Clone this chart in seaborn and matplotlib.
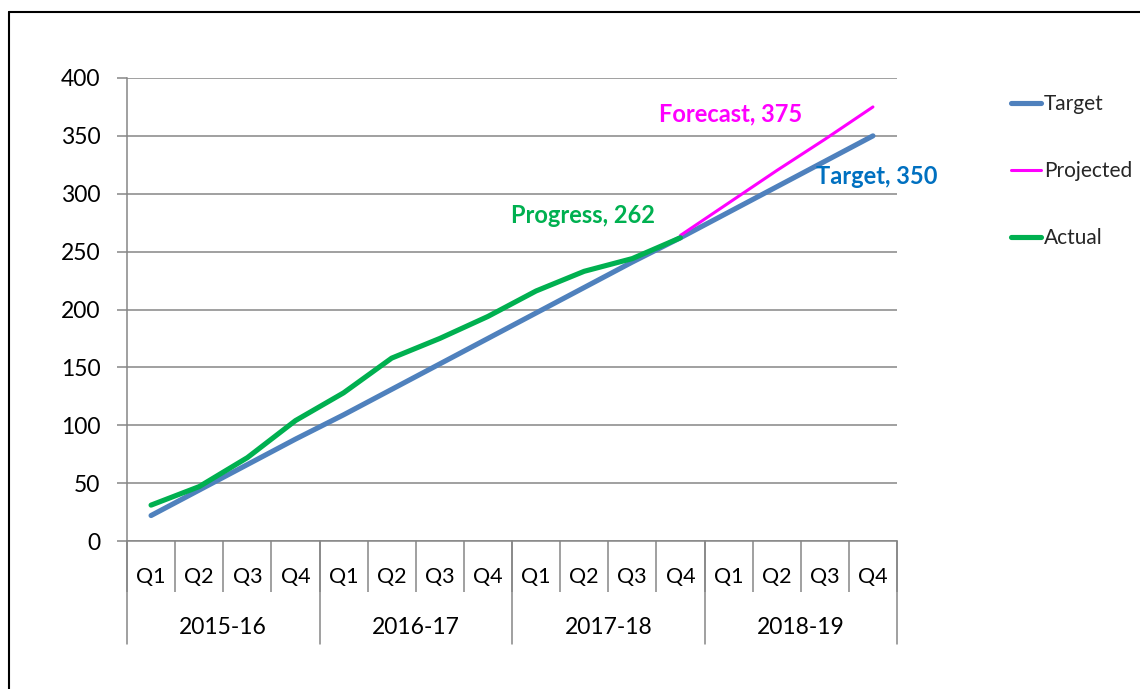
import matplotlib
matplotlib.use("Agg")
import matplotlib.pyplot as plt
import matplotlib.transforms as mtransforms
import seaborn as sns
import pandas as pd
import numpy as np

# ---- data ----
years = ["2015-16", "2016-17", "2017-18", "2018-19"]
quarters = ["Q1", "Q2", "Q3", "Q4"]
target = [22, 44, 66, 88, 109, 131, 153, 175, 197, 219, 241, 262, 284, 306, 328, 350]
actual = [31, 47, 72, 104, 128, 158, 175, 194, 216, 233, 244, 262]
projected = [264, 292, 320, 347, 375]
projected_start = 11  # index of first projected quarter

sns.set_theme(style="white")
plt.rcParams["font.family"] = ["Lato", "DejaVu Sans"]

rows = []
for i, v in enumerate(target):
    rows.append({"idx": i, "value": v, "series": "Target"})
for i, v in enumerate(projected):
    rows.append({"idx": projected_start + i, "value": v, "series": "Projected"})
for i, v in enumerate(actual):
    rows.append({"idx": i, "value": v, "series": "Actual"})
df = pd.DataFrame(rows)

palette = {"Target": "#4F81BD", "Projected": "#FF00FF", "Actual": "#00B050"}
sizes = {"Target": 3.7, "Projected": 2.2, "Actual": 3.7}

W, H = 1140, 689
fig = plt.figure(figsize=(W / 100, H / 100), dpi=100)
ax = fig.add_axes([127 / W, (H - 541) / H, 770 / W, 463 / H])

for name in ["Target", "Projected", "Actual"]:
    sub = df[df.series == name]
    sns.lineplot(data=sub, x="idx", y="value", ax=ax, color=palette[name],
                 linewidth=sizes[name], label=name, solid_capstyle="round",
                 zorder=3 if name != "Target" else 2)

n = len(target)
ax.set_xlim(-0.5, n - 0.5)
ax.set_ylim(0, 400)
ax.set_yticks(np.arange(0, 401, 50))
ax.yaxis.grid(True, color="#868686", linewidth=1.1)
ax.xaxis.grid(False)
ax.set_xlabel("")
ax.set_ylabel("")
for s in ["top", "right"]:
    ax.spines[s].set_visible(False)
for s in ["left", "bottom"]:
    ax.spines[s].set_color("#868686")
    ax.spines[s].set_linewidth(1.1)
ax.tick_params(axis="y", which="major", length=7, width=1.1, color="#868686",
               labelsize=16.5, labelcolor="black", pad=12, left=True)

# category axis: separators between quarters as ticks
ax.set_xticks(np.arange(-0.5, n, 1.0))
ax.set_xticklabels([])
ax.tick_params(axis="x", which="major", length=37, width=1.1, color="#868686", bottom=True)

trans = mtransforms.blended_transform_factory(ax.transData, ax.transAxes)
ax_h = 463
for i in range(n):
    ax.text(i, -36 / ax_h, quarters[i % 4], transform=trans, ha="center", va="center",
            fontsize=15.5, color="black")
for g, y in enumerate(years):
    ax.text(g * 4 + 1.5, -87 / ax_h, y, transform=trans, ha="center", va="center",
            fontsize=16.5, color="black")
for b in range(0, n + 1, 4):
    ax.plot([b - 0.5, b - 0.5], [0, -103 / ax_h], transform=trans, color="#868686",
            linewidth=1.1, clip_on=False)

# data labels
ax.text(12.05, 369, "Forecast, 375", color="#FF00FF", fontsize=17, fontweight="bold",
        ha="center", va="center")
ax.text(15.08, 315, "Target, 350", color="#0070C0", fontsize=17, fontweight="bold",
        ha="center", va="center")
ax.text(8.98, 281, "Progress, 262", color="#00B050", fontsize=17, fontweight="bold",
        ha="center", va="center")

ax.get_legend().remove()
handles, labels = ax.get_legend_handles_labels()
leg = fig.legend(handles, labels, loc="upper left", bbox_to_anchor=(1001 / W, 1 - 84 / H),
                 frameon=False, fontsize=15, handlelength=1.4, handletextpad=0.15,
                 labelspacing=2.25, borderpad=0)

# outer border (left & top visible)
fig.add_artist(plt.Line2D([9 / W, 9 / W], [0, 1 - 12 / H], color="black", linewidth=1.5,
                          transform=fig.transFigure))
fig.add_artist(plt.Line2D([9 / W, 1], [1 - 12 / H, 1 - 12 / H], color="black", linewidth=1.5,
                          transform=fig.transFigure))

fig.savefig("out.png", dpi=100, facecolor="white")
